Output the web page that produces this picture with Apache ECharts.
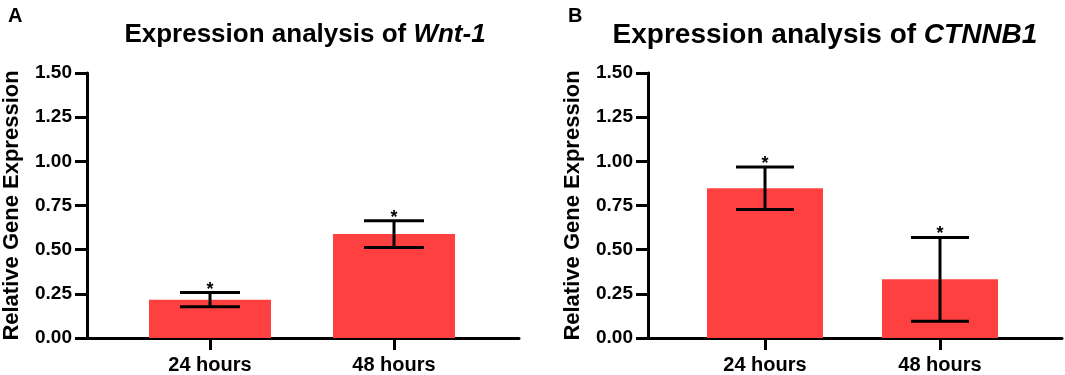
<!DOCTYPE html>
<html>
<head>
<meta charset="utf-8">
<script src="https://cdn.jsdelivr.net/npm/echarts@6/dist/echarts.min.js"></script>
<style>html,body{margin:0;padding:0;background:#fff;}#c{width:1065px;height:375px;}</style>
</head>
<body>
<div id="c"></div>
<script>
const categories = ['24 hours', '48 hours'];
const wntMean = [0.217, 0.588];
const wntErr = [0.04, 0.076];
const ctnnMean = [0.848, 0.332];
const ctnnErr = [0.12, 0.237];

const FONT = 'Arial, "Liberation Sans", sans-serif';
const RED = '#FF4040';

const chart = echarts.init(document.getElementById('c'), null, {renderer: 'canvas'});

function errItems(means, errs) {
  return means.map((m, i) => [i, m, errs[i]]);
}

function errRender(capHalf) {
  return function (params, api) {
    const i = api.value(0), m = api.value(1), e = api.value(2);
    const top = api.coord([i, m + e]);
    const bot = api.coord([i, m - e]);
    const style = {stroke: '#000', lineWidth: 3};
    return {
      type: 'group',
      children: [
        {type: 'line', shape: {x1: top[0], y1: top[1], x2: bot[0], y2: bot[1]}, style},
        {type: 'line', shape: {x1: top[0] - capHalf, y1: top[1], x2: top[0] + capHalf, y2: top[1]}, style},
        {type: 'line', shape: {x1: bot[0] - capHalf, y1: bot[1], x2: bot[0] + capHalf, y2: bot[1]}, style},
        {type: 'text', style: {text: '*', x: top[0], y: top[1] - 3, textAlign: 'center', textVerticalAlign: 'middle',
          font: 'bold 18px ' + FONT, fill: '#000'}}
      ]
    };
  };
}

const frameX = {
  type: 'value', min: 0, max: 1,
  axisLine: {show: true, onZero: false, lineStyle: {color: '#000', width: 3}},
  axisTick: {show: false}, axisLabel: {show: false}, splitLine: {show: false}
};
const frameY = {
  type: 'value', min: 0, max: 1.5, interval: 0.25,
  name: 'Relative Gene Expression', nameLocation: 'middle', nameGap: 64,
  nameTextStyle: {fontFamily: FONT, fontWeight: 'bold', fontSize: 22, color: '#000'},
  axisLine: {show: true, lineStyle: {color: '#000', width: 3}},
  axisTick: {show: true, length: 12, lineStyle: {color: '#000', width: 3}},
  axisLabel: {margin: 15, fontFamily: FONT, fontWeight: 'bold', fontSize: 19, color: '#000',
    formatter: v => v.toFixed(2)},
  splitLine: {show: false}
};
const dataX = {
  type: 'category', data: categories,
  axisLine: {show: false},
  axisTick: {show: true, alignWithLabel: true, length: 12, lineStyle: {color: '#000', width: 3}},
  axisLabel: {margin: 17, fontFamily: FONT, fontWeight: 'bold', fontSize: 20, color: '#000'}
};
const dataY = {type: 'value', min: 0, max: 1.5, show: false};

function titleRich(size) {
  return {
    n: {fontFamily: FONT, fontWeight: 'bold', fontSize: size, color: '#000'},
    i: {fontFamily: FONT, fontWeight: 'bold', fontStyle: 'italic', fontSize: size, color: '#000'}
  };
}

const option = {
  animation: false,
  backgroundColor: '#fff',
  title: [
    {text: 'A', left: 3, top: 1, textStyle: {fontFamily: FONT, fontWeight: 'bold', fontSize: 20, color: '#000'}},
    {text: 'B', left: 563, top: 1, textStyle: {fontFamily: FONT, fontWeight: 'bold', fontSize: 20, color: '#000'}},
    {text: '{n|Expression analysis of }{i|Wnt-1}', left: 300, top: 17, textAlign: 'center',
      textStyle: {rich: titleRich(26)}},
    {text: '{n|Expression analysis of }{i|CTNNB1}', left: 820, top: 16, textAlign: 'center',
      textStyle: {rich: titleRich(28)}}
  ],
  grid: [
    {left: 87, right: 546, top: 73, height: 265, outerBoundsMode: 'none', containLabel: false},
    {left: 118, width: 368, top: 73, height: 265, outerBoundsMode: 'none', containLabel: false},
    {left: 648, right: 3, top: 73, height: 265, outerBoundsMode: 'none', containLabel: false},
    {left: 677.5, width: 350, top: 73, height: 265, outerBoundsMode: 'none', containLabel: false}
  ],
  xAxis: [
    Object.assign({gridIndex: 0}, frameX),
    Object.assign({gridIndex: 1}, dataX),
    Object.assign({gridIndex: 2}, frameX),
    Object.assign({gridIndex: 3}, dataX)
  ],
  yAxis: [
    Object.assign({gridIndex: 0}, frameY),
    Object.assign({gridIndex: 1}, dataY),
    Object.assign({gridIndex: 2}, frameY),
    Object.assign({gridIndex: 3}, dataY)
  ],
  series: [
    {type: 'bar', xAxisIndex: 1, yAxisIndex: 1, data: wntMean, barWidth: 122,
      itemStyle: {color: RED}, z: 2},
    {type: 'custom', xAxisIndex: 1, yAxisIndex: 1, data: errItems(wntMean, wntErr),
      renderItem: errRender(30), z: 3},
    {type: 'bar', xAxisIndex: 3, yAxisIndex: 3, data: ctnnMean, barWidth: 116,
      itemStyle: {color: RED}, z: 2},
    {type: 'custom', xAxisIndex: 3, yAxisIndex: 3, data: errItems(ctnnMean, ctnnErr),
      renderItem: errRender(29), z: 3}
  ]
};
chart.setOption(option);
</script>
</body>
</html>
